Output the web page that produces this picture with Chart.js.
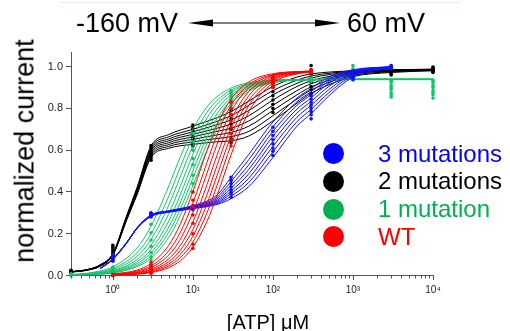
<!DOCTYPE html>
<html><head><meta charset="utf-8">
<script src="https://cdn.jsdelivr.net/npm/chart.js@4.4.1/dist/chart.umd.min.js"></script>
<style>
html,body{margin:0;padding:0;background:#fff;}
#wrap{position:relative;width:510px;height:331px;overflow:hidden;font-family:"Liberation Sans",Arial,Helvetica,sans-serif;color:#000;}
#c{position:absolute;left:0;top:0;}
.t{position:absolute;white-space:nowrap;line-height:1;}
.dot{position:absolute;width:21px;height:21px;border-radius:50%;}
</style></head><body>
<div id="wrap">
<canvas id="c" width="510" height="331"></canvas>
<div style="position:absolute;left:60px;top:2px;width:400px;height:1px;background:#e3f1f6"></div>
<div class="t" style="left:76px;top:23px;font-size:27px;transform:translateY(-50%)">-160 mV</div>
<svg style="position:absolute;left:186px;top:16px" width="156" height="14">
 <line x1="20" y1="7" x2="136" y2="7" stroke="#000" stroke-width="1.2"/>
 <polygon points="2,7 27,3.6 27,10.4" fill="#000"/>
 <polygon points="154,7 129,3.6 129,10.4" fill="#000"/>
</svg>
<div class="t" style="left:347px;top:23px;font-size:27px;transform:translateY(-50%)">60 mV</div>
<div class="t" style="left:25px;top:150.5px;font-size:27px;transform:translate(-50%,-50%) rotate(-90deg)">normalized current</div>
<div class="t" style="left:268px;top:322px;font-size:20px;transform:translate(-50%,-50%)">[ATP] μM</div>
<div id="legend"></div>
</div>
<script>
const FONT = '"Liberation Sans", Arial, Helvetica, sans-serif';

// ---- axis ticks ----
const xMajorTicks = [1, 10, 100, 1000, 10000];
const xTickLabels = ['10⁰', '10¹', '10²', '10³', '10⁴'];
const yTicks = [0, 0.2, 0.4, 0.6, 0.8, 1.0];

// ---- legend ----
const legendLabels = ['3 mutations', '2 mutations', '1 mutation', 'WT'];
const legendColors = ['#0000ff', '#000000', '#00b050', '#ff0000'];

// ---- WT (red) fitted curves ----
const redCurveX = [1, 2, 3, 5, 7, 10, 15, 20, 30, 50, 100, 200, 300];
const redCurves = [
  [0.007,0.026,0.058,0.145,0.249,0.402,0.598,0.721,0.845,0.927,0.966,0.976,0.978],
  [0.005,0.021,0.046,0.118,0.208,0.347,0.541,0.673,0.815,0.913,0.962,0.976,0.978],
  [0.004,0.017,0.038,0.098,0.175,0.302,0.490,0.627,0.784,0.899,0.958,0.975,0.978],
  [0.003,0.014,0.030,0.080,0.145,0.256,0.435,0.575,0.746,0.881,0.953,0.973,0.977],
  [0.003,0.011,0.025,0.066,0.122,0.220,0.386,0.526,0.708,0.861,0.947,0.972,0.976],
  [0.002,0.009,0.021,0.055,0.102,0.188,0.342,0.478,0.668,0.839,0.940,0.970,0.975],
  [0.002,0.008,0.017,0.046,0.086,0.160,0.300,0.430,0.625,0.814,0.932,0.968,0.974],
  [0.002,0.006,0.014,0.038,0.071,0.135,0.259,0.382,0.578,0.784,0.922,0.965,0.973]
];
const redPointX = [1, 3, 10, 30, 100, 300];
const redPoints = [
  [0.004,0.003,0.002,0.002,0.001,0.001,0.000,0.000],
  [0.062,0.050,0.040,0.032,0.025,0.020,0.015,0.010],
  [0.400,0.360,0.330,0.290,0.250,0.200,0.150,0.130],
  [0.830,0.800,0.770,0.740,0.710,0.680,0.650,0.620],
  [0.955,0.950,0.940,0.935,0.925,0.920,0.910,0.900],
  [0.985,0.980,0.978,0.976,0.975,0.973,0.972,0.970]
];

// ---- 1 mutation (green) fitted curves ----
const greenCurveX = [0.3, 0.5, 1, 2, 3, 5, 7, 10, 15, 20, 30, 50, 100, 300, 1000, 3000, 10000];
const greenCurves = [
  [0.005,0.012,0.042,0.131,0.236,0.429,0.570,0.701,0.807,0.856,0.898,0.923,0.935,0.939,0.940,0.940,0.940],
  [0.004,0.010,0.034,0.108,0.200,0.380,0.521,0.661,0.781,0.838,0.888,0.918,0.934,0.939,0.940,0.940,0.940],
  [0.003,0.008,0.028,0.091,0.172,0.337,0.476,0.621,0.754,0.819,0.878,0.914,0.932,0.939,0.940,0.940,0.940],
  [0.003,0.007,0.023,0.076,0.146,0.296,0.430,0.579,0.723,0.797,0.865,0.909,0.931,0.938,0.939,0.939,0.939],
  [0.002,0.006,0.020,0.065,0.125,0.261,0.389,0.538,0.691,0.774,0.852,0.903,0.929,0.938,0.939,0.939,0.939],
  [0.002,0.005,0.017,0.056,0.109,0.232,0.352,0.501,0.661,0.751,0.838,0.897,0.927,0.937,0.938,0.938,0.938],
  [0.002,0.004,0.014,0.048,0.095,0.207,0.320,0.466,0.630,0.727,0.824,0.890,0.925,0.937,0.938,0.938,0.938],
  [0.001,0.004,0.012,0.042,0.083,0.183,0.289,0.430,0.598,0.701,0.807,0.882,0.923,0.936,0.938,0.938,0.938]
];
const greenPointX = [0.3, 1, 3, 10, 30, 100, 300, 1000, 3000, 10000];
const greenPoints = [
  [0.000,0.002,0.004,0.006,0.008,0.005,0.003,0.001],
  [0.040,0.033,0.027,0.022,0.018,0.015,0.012,0.010],
  [0.245,0.205,0.170,0.140,0.110,0.090,0.075,0.050],
  [0.680,0.640,0.600,0.560,0.530,0.480,0.440,0.400],
  [0.885,0.875,0.865,0.855,0.840,0.830,0.815,0.800],
  [0.950,0.945,0.940,0.935,0.935,0.930,0.930,0.925],
  [0.945,0.942,0.940,0.938,0.936,0.935,0.933,0.930],
  [1.005,0.990,0.980,0.965,0.955,0.945,0.940,0.935],
  [0.935,0.925,0.910,0.900,0.890,0.875,0.865,0.855],
  [0.935,0.925,0.910,0.900,0.885,0.875,0.865,0.850]
];

// ---- 2 mutations (black) fitted curves ----
const blackCurveX = [0.3, 0.5, 0.7, 1, 1.5, 2, 3, 5, 10, 20, 30, 50, 100, 200, 300, 1000, 3000, 10000];
const blackCurves = [
  [0.018,0.030,0.052,0.105,0.290,0.420,0.620,0.675,0.715,0.755,0.785,0.835,0.905,0.950,0.965,0.980,0.985,0.988],
  [0.018,0.030,0.051,0.104,0.288,0.415,0.612,0.664,0.700,0.738,0.765,0.815,0.885,0.935,0.955,0.978,0.984,0.987],
  [0.018,0.029,0.050,0.103,0.285,0.410,0.604,0.654,0.688,0.722,0.745,0.790,0.865,0.920,0.945,0.975,0.983,0.986],
  [0.017,0.029,0.049,0.102,0.282,0.405,0.596,0.645,0.676,0.705,0.725,0.765,0.840,0.905,0.932,0.972,0.982,0.986],
  [0.017,0.028,0.048,0.101,0.278,0.400,0.588,0.636,0.664,0.690,0.705,0.740,0.815,0.885,0.918,0.968,0.980,0.985],
  [0.017,0.028,0.047,0.100,0.275,0.395,0.580,0.627,0.652,0.673,0.685,0.715,0.790,0.865,0.903,0.964,0.978,0.984],
  [0.016,0.027,0.046,0.099,0.272,0.390,0.572,0.618,0.640,0.656,0.665,0.690,0.765,0.845,0.888,0.958,0.975,0.982],
  [0.016,0.027,0.045,0.098,0.268,0.385,0.564,0.609,0.628,0.640,0.645,0.668,0.740,0.825,0.872,0.952,0.972,0.980]
];
const blackPointX = [0.3, 1, 3, 10, 30, 100, 300, 1000, 3000, 10000];
const blackPoints = [
  [0.025,0.023,0.021,0.020,0.019,0.018,0.016,0.015],
  [0.145,0.135,0.125,0.115,0.105,0.100,0.095,0.090],
  [0.622,0.612,0.600,0.590,0.580,0.572,0.562,0.552],
  [0.720,0.705,0.690,0.675,0.660,0.650,0.635,0.620],
  [0.790,0.770,0.750,0.725,0.700,0.680,0.655,0.635],
  [0.920,0.900,0.880,0.860,0.840,0.820,0.800,0.780],
  [1.005,0.985,0.965,0.945,0.925,0.905,0.890,0.870],
  [0.975,0.970,0.965,0.960,0.958,0.955,0.952,0.950],
  [0.995,0.990,0.985,0.980,0.975,0.970,0.965,0.960],
  [0.998,0.993,0.990,0.985,0.982,0.978,0.975,0.972]
];

// ---- 3 mutations (blue) fitted curves ----
const blueCurveX = [0.7, 1, 1.5, 2, 3, 5, 10, 20, 30, 50, 100, 200, 300, 500, 1000, 3000];
const blueCurves = [
  [0.035,0.080,0.160,0.228,0.290,0.310,0.335,0.385,0.470,0.580,0.735,0.850,0.895,0.950,0.985,1.000],
  [0.035,0.080,0.160,0.228,0.289,0.309,0.332,0.375,0.450,0.555,0.712,0.832,0.880,0.940,0.982,1.000],
  [0.035,0.079,0.159,0.227,0.288,0.308,0.330,0.367,0.433,0.530,0.690,0.815,0.865,0.930,0.978,0.999],
  [0.035,0.079,0.159,0.227,0.287,0.307,0.328,0.360,0.418,0.508,0.667,0.797,0.850,0.920,0.975,0.998],
  [0.034,0.078,0.158,0.226,0.286,0.306,0.326,0.354,0.404,0.487,0.643,0.778,0.833,0.905,0.970,0.998],
  [0.034,0.078,0.158,0.226,0.285,0.305,0.324,0.349,0.392,0.466,0.618,0.758,0.815,0.890,0.965,0.997],
  [0.034,0.077,0.157,0.225,0.284,0.304,0.322,0.344,0.380,0.446,0.592,0.737,0.795,0.875,0.958,0.996],
  [0.034,0.077,0.157,0.225,0.283,0.303,0.320,0.340,0.368,0.426,0.565,0.715,0.775,0.860,0.950,0.995]
];
const bluePointX = [1, 3, 10, 30, 100, 300, 1000, 3000];
const bluePoints = [
  [0.100,0.095,0.090,0.085,0.080,0.076,0.072,0.068],
  [0.300,0.298,0.295,0.292,0.290,0.287,0.284,0.280],
  [0.335,0.332,0.330,0.328,0.325,0.322,0.318,0.315],
  [0.470,0.455,0.440,0.425,0.410,0.400,0.390,0.375],
  [0.710,0.690,0.670,0.650,0.630,0.610,0.595,0.575],
  [0.860,0.845,0.830,0.815,0.800,0.785,0.770,0.750],
  [0.975,0.970,0.965,0.960,0.955,0.950,0.945,0.940],
  [1.005,1.003,1.000,0.998,0.996,0.994,0.992,0.990]
];

// ---- build datasets ----
function curveSets(xs, curves, color, order) {
  return curves.map(c => ({
    data: xs.map((x, i) => ({x: x, y: c[i]})),
    borderColor: color, borderWidth: 1, pointRadius: 0, fill: false,
    cubicInterpolationMode: 'monotone', order: order, clip: false
  }));
}
function pointSet(xs, vals, color, order) {
  const data = [];
  xs.forEach((x, i) => vals[i].forEach(v => data.push({x: x, y: v})));
  return {data: data, showLine: false, pointRadius: 1.8, pointBackgroundColor: color,
          pointBorderWidth: 0, borderColor: color, order: order, clip: false};
}
const RED = '#ff0000', GREEN = '#10c468', BLACK = '#000000', BLUE = '#1010ff';
const datasets = [].concat(
  [pointSet(redPointX, redPoints, RED, 0)], curveSets(redCurveX, redCurves, RED, 1),
  [pointSet(bluePointX, bluePoints, BLUE, 2)], curveSets(blueCurveX, blueCurves, BLUE, 3),
  [pointSet(greenPointX, greenPoints, GREEN, 4)], curveSets(greenCurveX, greenCurves, GREEN, 5),
  [pointSet(blackPointX, blackPoints, BLACK, 6)], curveSets(blackCurveX, blackCurves, BLACK, 7)
);

// all log ticks (minor + major) inside the axis range
const xAllTicks = [];
[0.1, 1, 10, 100, 1000].forEach(d => { for (let m = 1; m <= 9; m++) { const v = +(m * d).toPrecision(3); if (v >= 0.3 && v <= 10000) xAllTicks.push(v); } });
xAllTicks.push(10000);

const tickPlugin = {
  id: 'logTicks',
  afterDraw(chart) {
    const s = chart.scales.x, ctx = chart.ctx;
    ctx.save(); ctx.strokeStyle = '#555'; ctx.lineWidth = 1;
    s.ticks.forEach(t => {
      const px = Math.round(s.getPixelForValue(t.value)) + 0.5;
      const major = xMajorTicks.indexOf(t.value) >= 0;
      ctx.beginPath(); ctx.moveTo(px, s.top); ctx.lineTo(px, s.top + (major ? 4.5 : 3)); ctx.stroke();
    });
    ctx.restore();
  }
};

new Chart(document.getElementById('c'), {
  type: 'line',
  data: {datasets: datasets},
  options: {
    responsive: false, animation: false, events: [], devicePixelRatio: 1,
    layout: {padding: {left: 0, right: 77, top: 52, bottom: 0}},
    plugins: {legend: {display: false}, tooltip: {enabled: false}},
    scales: {
      x: {
        type: 'logarithmic', min: 0.3, max: 10000,
        afterBuildTicks: s => { s.ticks = xAllTicks.map(v => ({value: v})); },
        afterFit: s => { s.height = 55.5; },
        grid: {display: false, drawTicks: false},
        border: {display: true, color: '#555', width: 1},
        ticks: {autoSkip: false, maxRotation: 0, padding: 9, color: '#222', font: {size: 10, family: FONT},
          callback: v => { const i = xMajorTicks.indexOf(v); return i >= 0 ? xTickLabels[i] : ''; }}
      },
      y: {
        type: 'linear', min: 0, max: 1.07,
        afterBuildTicks: s => { s.ticks = yTicks.map(v => ({value: v})); },
        afterFit: s => { s.width = 71; },
        grid: {drawOnChartArea: false, drawTicks: true, tickLength: 5, color: '#555'},
        border: {display: true, color: '#555', width: 1},
        ticks: {padding: 3, color: '#222', font: {size: 11, family: FONT}, callback: v => v.toFixed(1)}
      }
    }
  },
  plugins: [tickPlugin]
});

// legend as HTML
const lg = document.getElementById('legend');
legendLabels.forEach((lab, i) => {
  const cy = 153.5 + 27.8 * i;
  const d = document.createElement('div');
  d.className = 'dot'; d.style.left = '322.5px'; d.style.top = (cy - 10.5) + 'px'; d.style.background = legendColors[i];
  lg.appendChild(d);
  const t = document.createElement('div');
  t.className = 't'; t.textContent = lab; t.style.left = '378px'; t.style.top = cy + 'px';
  t.style.fontSize = '24px'; t.style.color = legendColors[i]; t.style.transform = 'translateY(-50%)';
  lg.appendChild(t);
});
</script>
</body></html>
